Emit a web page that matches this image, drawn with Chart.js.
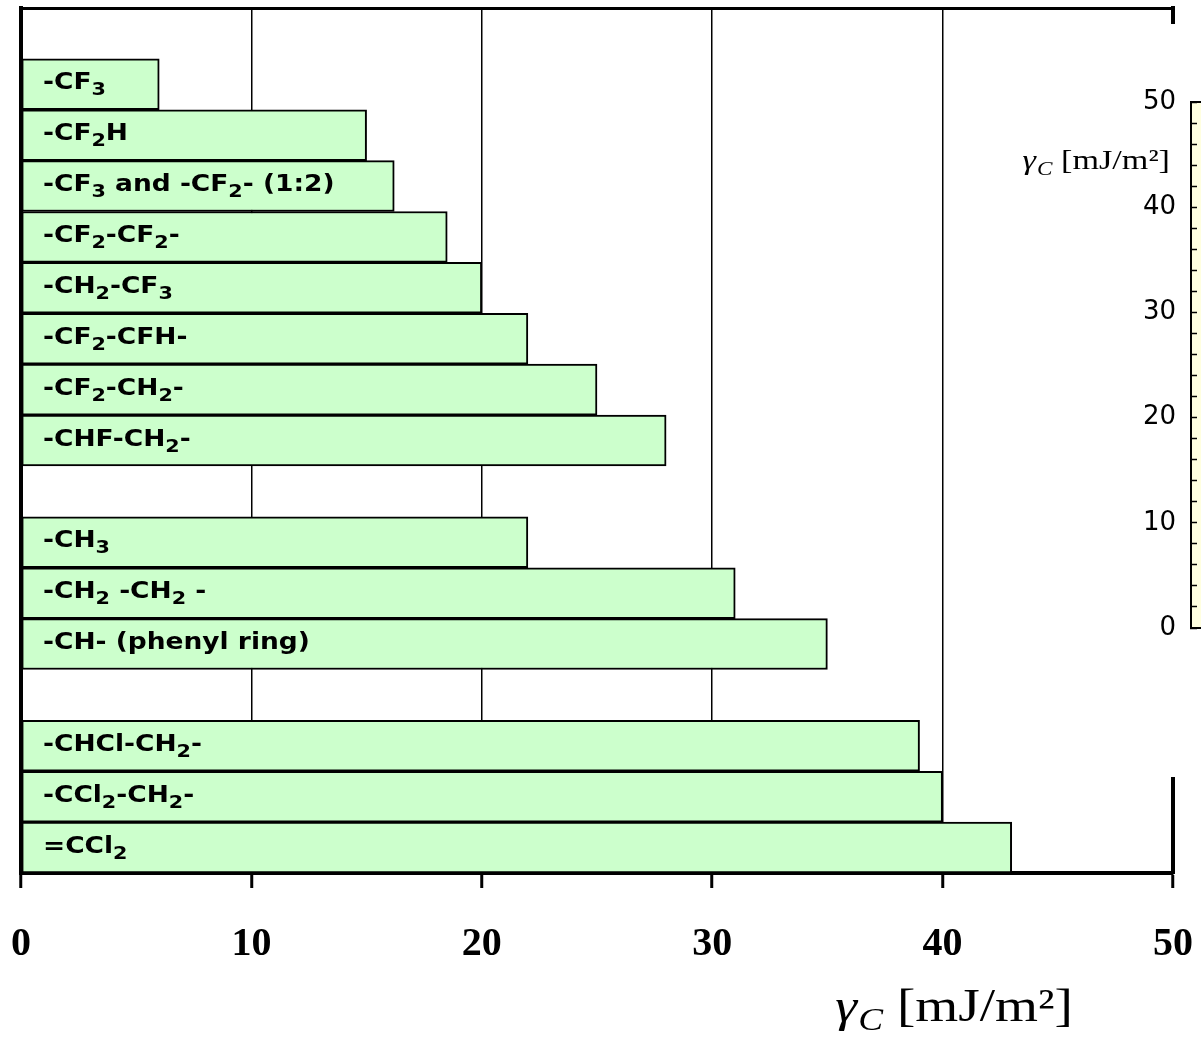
<!DOCTYPE html>
<html>
<head>
<meta charset="utf-8">
<script src="https://cdn.jsdelivr.net/npm/chart.js@4.4.0/dist/chart.umd.min.js"></script>
<style>
  html, body { margin: 0; padding: 0; background: #fff; overflow: hidden; }
  #wrap { position: relative; width: 1201px; height: 1041px; }
  #main { position: absolute; left: 0; top: 0; }
  #insetBox { position: absolute; left: 990px; top: 24px; width: 211px; height: 753px; overflow: hidden; background: #fff; }
  #inset { position: absolute; left: 0; top: 0; }
</style>
</head>
<body>
<div id="wrap">
  <canvas id="main" width="1201" height="1041"></canvas>
  <div id="insetBox"><canvas id="inset" width="400" height="753"></canvas></div>
</div>
<script>
// Data ('_' marks the next character as a subscript, '' rows are gaps)
const groups = [
  '',
  '-CF_3',
  '-CF_2H',
  '-CF_3 and -CF_2- (1:2)',
  '-CF_2-CF_2-',
  '-CH_2-CF_3',
  '-CF_2-CFH-',
  '-CF_2-CH_2-',
  '-CHF-CH_2-',
  '',
  '-CH_3',
  '-CH_2 -CH_2 -',
  '-CH- (phenyl ring)',
  '',
  '-CHCl-CH_2-',
  '-CCl_2-CH_2-',
  '=CCl_2'
];
const values = [null, 6, 15, 16.2, 18.5, 20, 22, 25, 28, null, 22, 31, 35, null, 39, 40, 43];

const xMin = 0, xMax = 50, xStep = 10;
const insetMin = 0, insetMax = 50, insetStep = 2, insetLabelStep = 10;

const SERIF = '"Liberation Serif", "Times New Roman", serif';
const SANS = '"DejaVu Sans", Verdana, sans-serif';

// Draw a list of text runs, each with its own font and vertical shift
function drawRuns(ctx, runs, x, y, align, sx) {
  let w = 0;
  runs.forEach(r => { ctx.font = r.font; w += ctx.measureText(r.text).width + (r.gap || 0); });
  ctx.save();
  ctx.translate(x, y);
  ctx.scale(sx, 1);
  ctx.textAlign = 'left';
  ctx.textBaseline = 'alphabetic';
  let cx = align === 'center' ? -w / 2 : align === 'right' ? -w : 0;
  runs.forEach(r => {
    ctx.font = r.font;
    ctx.fillText(r.text, cx, r.dy);
    cx += ctx.measureText(r.text).width + (r.gap || 0);
  });
  ctx.restore();
}

function labelRuns(str) {
  const runs = [];
  let buf = '';
  for (let i = 0; i < str.length; i++) {
    if (str[i] === '_') {
      if (buf) runs.push({ text: buf, font: 'bold 23px ' + SANS, dy: 0 });
      buf = '';
      i++;
      runs.push({ text: str[i], font: 'bold 18px ' + SANS, dy: 6 });
    } else {
      buf += str[i];
    }
  }
  if (buf) runs.push({ text: buf, font: 'bold 23px ' + SANS, dy: 0 });
  return runs;
}

function gammaRuns(size) {
  return [
    { text: 'γ', font: 'italic ' + size + 'px ' + SERIF, dy: 0, gap: 1 },
    { text: 'C', font: 'italic ' + Math.round(size * 0.68) + 'px ' + SERIF, dy: Math.round(size * 0.2) },
    { text: ' [mJ/m²]', font: size + 'px ' + SERIF, dy: 0 }
  ];
}

// Text of each bar, drawn inside the bar
const barLabels = {
  id: 'barLabels',
  afterDatasetsDraw(chart) {
    const ctx = chart.ctx;
    const meta = chart.getDatasetMeta(0);
    ctx.save();
    ctx.fillStyle = '#000';
    meta.data.forEach((bar, i) => {
      if (values[i] == null) return;
      drawRuns(ctx, labelRuns(groups[i]), chart.chartArea.left + 22, bar.y + 5, 'left', 1.15);
    });
    ctx.restore();
  },
  afterDraw(chart) {
    const ctx = chart.ctx;
    const x = chart.scales.x;
    ctx.save();
    ctx.fillStyle = '#000';
    drawRuns(ctx, gammaRuns(46), x.getPixelForValue(40.5), x.bottom - 20, 'center', 1.2);
    ctx.restore();
  }
};

const noPad = s => { s.paddingLeft = 0; s.paddingRight = 0; s.paddingTop = 0; s.paddingBottom = 0; };

new Chart(document.getElementById('main'), {
  type: 'bar',
  data: {
    labels: groups,
    datasets: [{
      data: values,
      backgroundColor: '#ccffcc',
      borderColor: '#000',
      borderWidth: 2,
      borderSkipped: false,
      barPercentage: 1,
      categoryPercentage: 1
    }]
  },
  options: {
    indexAxis: 'y',
    responsive: false,
    animation: false,
    layout: { padding: { left: 21, right: 28, top: 8, bottom: 0 } },
    plugins: { legend: { display: false }, tooltip: { enabled: false } },
    scales: {
      x: {
        type: 'linear', min: xMin, max: xMax, position: 'bottom',
        ticks: { stepSize: xStep, color: '#000', padding: 33, font: { family: SERIF, size: 40, weight: 'bold' } },
        grid: { color: '#000', lineWidth: 1.5, tickLength: 15, tickWidth: 3, tickColor: '#000' },
        border: { color: '#000', width: 4 },
        afterFit: s => { s.height = 168; noPad(s); }
      },
      xTop: {
        type: 'linear', min: xMin, max: xMax, position: 'top',
        ticks: { display: false },
        grid: { display: false, drawTicks: false },
        border: { color: '#000', width: 3 },
        afterFit: s => { s.height = 0; noPad(s); }
      },
      y: {
        position: 'left',
        ticks: { display: false },
        grid: { display: false, drawTicks: false },
        border: { color: '#000', width: 4 },
        afterFit: s => { s.width = 0; noPad(s); }
      },
      yRight: {
        type: 'category', position: 'right',
        ticks: { display: false },
        grid: { display: false, drawTicks: false },
        border: { color: '#000', width: 4 },
        afterFit: s => { s.width = 0; noPad(s); }
      }
    }
  },
  plugins: [barLabels]
});

// Inset: lone value axis with a pale yellow box
const insetFrame = {
  id: 'insetFrame',
  beforeDraw(chart) {
    const { ctx, chartArea: a } = chart;
    ctx.save();
    ctx.fillStyle = '#ffffe0';
    ctx.fillRect(a.left, a.top, a.right - a.left, a.bottom - a.top);
    ctx.restore();
  },
  afterDraw(chart) {
    const { ctx, chartArea: a } = chart;
    const y = chart.scales.y;
    ctx.save();
    ctx.strokeStyle = '#000';
    ctx.lineWidth = 2;
    ctx.strokeRect(a.left, a.top, a.right - a.left + 4, a.bottom - a.top);
    ctx.fillStyle = '#000';
    drawRuns(ctx, gammaRuns(28), a.left - 21, y.getPixelForValue(43.6), 'right', 1.22);
    ctx.restore();
  }
};

new Chart(document.getElementById('inset'), {
  type: 'bar',
  data: { labels: [], datasets: [] },
  options: {
    responsive: false,
    animation: false,
    layout: { padding: { left: 0, right: 0, top: 78, bottom: 149 } },
    plugins: { legend: { display: false }, tooltip: { enabled: false } },
    scales: {
      x: { display: false },
      y: {
        type: 'linear', min: insetMin, max: insetMax, position: 'left',
        ticks: {
          stepSize: insetStep, autoSkip: false, color: '#000', padding: 21,
          font: { family: SANS, size: 26 },
          callback: v => (v % insetLabelStep === 0 ? v : '')
        },
        grid: { drawOnChartArea: false, tickLength: -6, tickWidth: 1.5, tickColor: '#000' },
        border: { color: '#000', width: 2 },
        afterFit: s => { s.width = 201; }
      }
    }
  },
  plugins: [insetFrame]
});
</script>
</body>
</html>
